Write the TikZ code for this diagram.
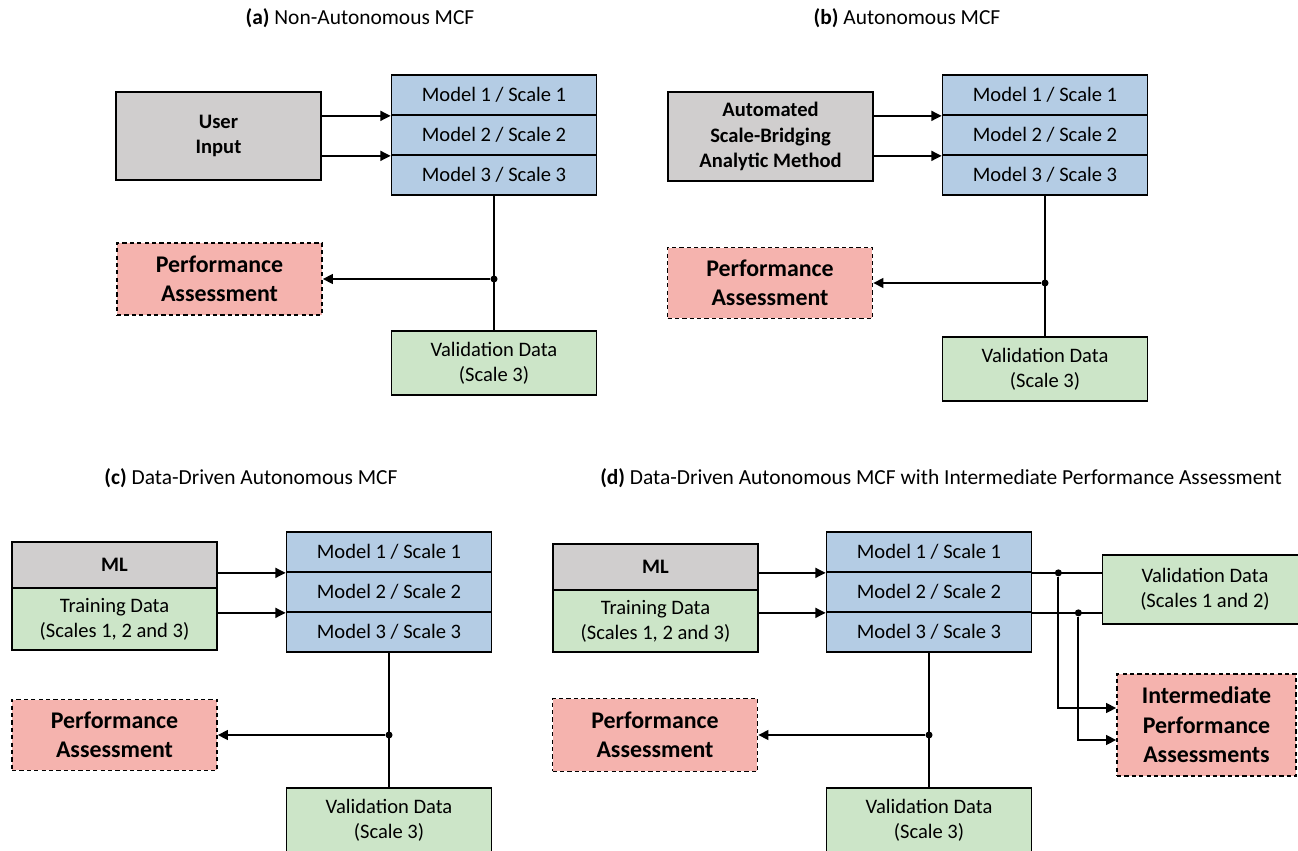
\documentclass[tikz,border=0pt]{standalone}
\usepackage{fontspec}
\setmainfont{Carlito}
\usetikzlibrary{arrows.meta, positioning, calc}
\definecolor{mcfgray}{HTML}{D0CECE}
\definecolor{mcfblue}{HTML}{B4CCE4}
\definecolor{mcfgreen}{HTML}{CCE5C8}
\definecolor{mcfpink}{HTML}{F5B3AE}

\begin{document}
\begin{tikzpicture}[x=0.02cm, y=-0.02cm,
  every node/.style={font=\fontsize{11.7}{14.2}\selectfont},
  box/.style={draw, line width=1pt, inner sep=0pt, align=center, minimum width=4.1cm},
  model/.style={box, fill=mcfblue, minimum height=0.8cm},
  inbox/.style={box, fill=mcfgray, font=\bfseries\fontsize{11.7}{14.4}\selectfont},
  databox/.style={box, fill=mcfgreen},
  valbox/.style={databox, minimum height=1.28cm},
  perf/.style={box, fill=mcfpink, line width=0.9pt, dash pattern=on 2.4pt off 1.8pt,
    font=\bfseries\fontsize{13.6}{16.8}\selectfont},
  title/.style={font=\fontsize{12.2}{14}\selectfont},
  link/.style={line width=1pt},
  arrow/.style={link, -{Triangle[length=5.8pt,width=5.6pt]}},
  joint/.style={circle, fill, inner sep=0pt, minimum size=4pt}]
  \useasboundingbox (0,0) rectangle (1298,851);

  % (a) non-autonomous
  \node[title] (ta) at (360,18) {\textbf{(a)} Non-Autonomous MCF};
  \foreach \i in {1,2,3}
    \node[model] (a\i) at (494,55+40*\i) {Model \i{} / Scale \i};
  \node[inbox, minimum height=1.76cm] (ua) at (218.5,136) {User\\Input};
  \node[perf, minimum height=1.44cm] (pa) at (219.5,279) {Performance\\Assessment};
  \node[valbox] (va) at (494,363) {Validation Data\\(Scale 3)};
  \draw[arrow] (ua.east |- a1.south west) -- (a1.south west);
  \draw[arrow] (ua.east |- a2.south west) -- (a2.south west);
  \draw[link] (a3.south) -- (va.north);
  \node[joint] (ja) at (a3.south |- pa.east) {};
  \draw[arrow] (ja) -- (pa.east);

  % (b) autonomous
  \node[title] (tb) at (907,18) {\textbf{(b)} Autonomous MCF};
  \foreach \i in {1,2,3}
    \node[model] (b\i) at (1045,55+40*\i) {Model \i{} / Scale \i};
  \node[inbox, minimum height=1.78cm] (ub) at (770.5,136.5) {Automated\\Scale-Bridging\\Analytic Method};
  \node[perf, minimum height=1.42cm] (pb) at (770,283) {Performance\\Assessment};
  \node[valbox] (vb) at (1045,369) {Validation Data\\(Scale 3)};
  \draw[arrow] (ub.east |- b1.south west) -- (b1.south west);
  \draw[arrow] (ub.east |- b2.south west) -- (b2.south west);
  \draw[link] (b3.south) -- (vb.north);
  \node[joint] (jb) at (b3.south |- pb.east) {};
  \draw[arrow] (jb) -- (pb.east);

  % (c) data-driven
  \node[title] (tc) at (251,478) {\textbf{(c)} Data-Driven Autonomous MCF};
  \foreach \i in {1,2,3}
    \node[model] (c\i) at (389,512+40*\i) {Model \i{} / Scale \i};
  \node[inbox, minimum height=0.92cm] (mlc) at (114.5,565) {ML};
  \node[databox, minimum height=1.24cm] (tdc) at (114.5,619) {Training Data\\(Scales 1, 2 and 3)};
  \node[perf, minimum height=1.42cm] (pc) at (114.5,735) {Performance\\Assessment};
  \node[valbox] (vc) at (389,820) {Validation Data\\(Scale 3)};
  \draw[arrow] (mlc.east |- c1.south west) -- (c1.south west);
  \draw[arrow] (tdc.east |- c2.south west) -- (c2.south west);
  \draw[link] (c3.south) -- (vc.north);
  \node[joint] (jc) at (c3.south |- pc.east) {};
  \draw[arrow] (jc) -- (pc.east);

  % (d) data-driven with intermediate assessment
  \node[title] (td) at (941,478) {\textbf{(d)} Data-Driven Autonomous MCF with Intermediate Performance Assessment};
  \foreach \i in {1,2,3}
    \node[model] (d\i) at (929,512+40*\i) {Model \i{} / Scale \i};
  \node[inbox, minimum height=0.92cm] (mld) at (655.5,567) {ML};
  \node[databox, minimum height=1.24cm] (tdd) at (655.5,621) {Training Data\\(Scales 1, 2 and 3)};
  \node[perf, minimum height=1.46cm] (pd) at (655,735) {Performance\\Assessment};
  \node[valbox] (vd) at (929,820) {Validation Data\\(Scale 3)};
  \node[databox, minimum height=1.38cm] (ve) at (1205,589.5) {Validation Data\\(Scales 1 and 2)};
  \node[perf, minimum width=3.58cm, minimum height=2.04cm] (ipa) at (1206.5,725)
    {Intermediate\\Performance\\Assessments};
  \draw[arrow] (mld.east |- d1.south west) -- (d1.south west);
  \draw[arrow] (tdd.east |- d2.south west) -- (d2.south west);
  \draw[link] (d3.south) -- (vd.north);
  \node[joint] (jd) at (d3.south |- pd.east) {};
  \draw[arrow] (jd) -- (pd.east);
  \draw[link] (d1.south east) -- (ve.west |- d1.south east);
  \draw[link] (d2.south east) -- (ve.west |- d2.south east);
  \node[joint] (k1) at ($(d1.south east)+(26,0)$) {};
  \node[joint] (k2) at ($(d2.south east)+(46,0)$) {};
  \draw[arrow] (k1) |- ([yshift=0.34cm]ipa.west);
  \draw[arrow] (k2) |- ([yshift=-0.3cm]ipa.west);
\end{tikzpicture}
\end{document}
